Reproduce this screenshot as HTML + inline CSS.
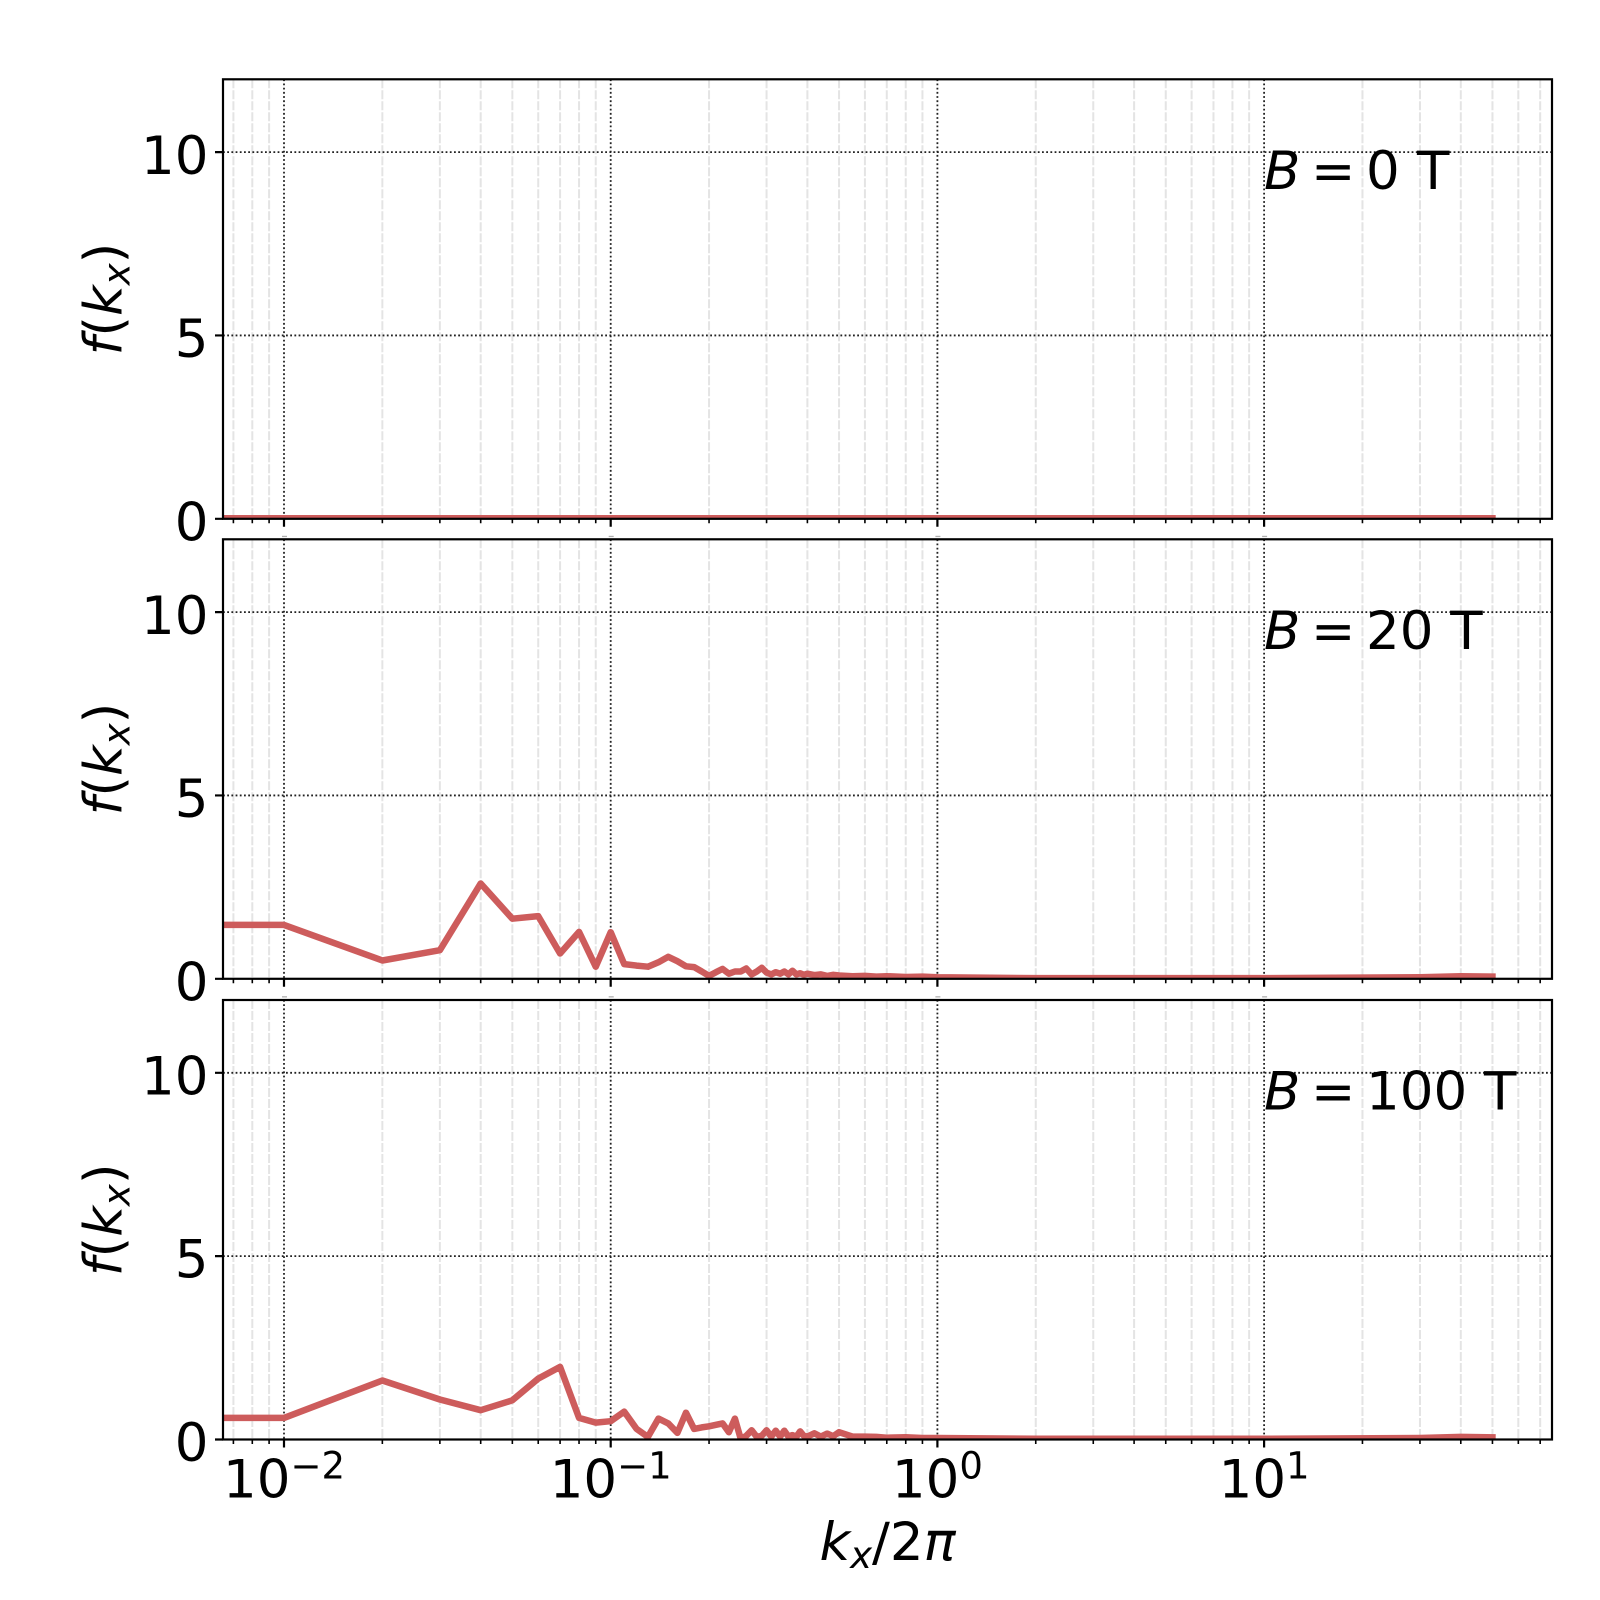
<!DOCTYPE html>
<html>
<head>
<meta charset="utf-8">
<style>
html,body{margin:0;padding:0;background:#fff;}
svg{display:block;}
text{font-family:"DejaVu Sans","Liberation Sans",sans-serif;fill:#000;}
</style>
</head>
<body>
<svg width="1600" height="1600" viewBox="0 0 1600 1600" xmlns="http://www.w3.org/2000/svg" xmlns:xlink="http://www.w3.org/1999/xlink">
<rect x="0" y="0" width="1600" height="1600" fill="#fff"/>
<defs>
  <clipPath id="c1"><rect x="223" y="79.3" width="1329" height="439.5"/></clipPath>
  <clipPath id="c2"><rect x="223" y="539.3" width="1329" height="439.5"/></clipPath>
  <clipPath id="c3"><rect x="223" y="1000" width="1329" height="439.5"/></clipPath>
  <g id="bg">
    <path d="M233.4 0V439.5M252.3 0V439.5M269.1 0V439.5M382.35 0V439.5M439.87 0V439.5M480.69 0V439.5M512.35 0V439.5M538.22 0V439.5M560.08 0V439.5M579.04 0V439.5M595.74 0V439.5M709.05 0V439.5M766.57 0V439.5M807.39 0V439.5M839.05 0V439.5M864.92 0V439.5M886.78 0V439.5M905.74 0V439.5M922.44 0V439.5M1035.75 0V439.5M1093.27 0V439.5M1134.09 0V439.5M1165.75 0V439.5M1191.62 0V439.5M1213.48 0V439.5M1232.44 0V439.5M1249.14 0V439.5M1362.45 0V439.5M1419.97 0V439.5M1460.79 0V439.5M1492.45 0V439.5M1518.32 0V439.5M1540.18 0V439.5" stroke="#e4e4e4" stroke-width="2" stroke-dasharray="9 2" fill="none"/>
    <path d="M284 0V439.5M610.7 0V439.5M937.4 0V439.5M1264.1 0V439.5M223 256.15H1552M223 72.8H1552" stroke="#222" stroke-width="1.8" stroke-dasharray="1.8 2.4" fill="none"/>
  </g>
  <g id="fg">
    <path d="M233.4 439.5v4.5M252.3 439.5v4.5M269.1 439.5v4.5M382.35 439.5v4.5M439.87 439.5v4.5M480.69 439.5v4.5M512.35 439.5v4.5M538.22 439.5v4.5M560.08 439.5v4.5M579.04 439.5v4.5M595.74 439.5v4.5M709.05 439.5v4.5M766.57 439.5v4.5M807.39 439.5v4.5M839.05 439.5v4.5M864.92 439.5v4.5M886.78 439.5v4.5M905.74 439.5v4.5M922.44 439.5v4.5M1035.75 439.5v4.5M1093.27 439.5v4.5M1134.09 439.5v4.5M1165.75 439.5v4.5M1191.62 439.5v4.5M1213.48 439.5v4.5M1232.44 439.5v4.5M1249.14 439.5v4.5M1362.45 439.5v4.5M1419.97 439.5v4.5M1460.79 439.5v4.5M1492.45 439.5v4.5M1518.32 439.5v4.5M1540.18 439.5v4.5" stroke="#000" stroke-width="1.6" fill="none"/>
    <path d="M284 439.5v8M610.7 439.5v8M937.4 439.5v8M1264.1 439.5v8M215 439.5H223M215 256.15H223M215 72.8H223" stroke="#000" stroke-width="2.2" fill="none"/>
    <rect x="223" y="0" width="1329" height="439.5" fill="none" stroke="#000" stroke-width="2.2"/>
  </g>
</defs>

<!-- Panel 1 -->
<use href="#bg" xlink:href="#bg" x="0" y="79.3"/>
<path clip-path="url(#c1)" d="M223,518.3 L1492.45,518.3" stroke="#CD5C5C" stroke-width="6.5" fill="none" stroke-linecap="square" stroke-linejoin="round"/>
<use href="#fg" xlink:href="#fg" x="0" y="79.3"/>

<!-- Panel 2 -->
<use href="#bg" xlink:href="#bg" x="0" y="539.3"/>
<path clip-path="url(#c2)" d="M223,924.9 L284,924.9 L382.35,960.5 L439.87,950.2 L480.69,883.5 L512.35,918.7 L538.22,916.1 L560.08,953.5 L579.04,931.9 L595.74,966.7 L610.7,932.2 L624.22,964.1 L636.57,965.6 L647.92,966.7 L658.44,962.3 L668.23,956.8 L677.38,961.2 L685.99,966.3 L694.1,967.1 L701.77,971.5 L709.05,975.9 L715.97,972.2 L722.57,968.9 L728.88,973.7 L734.92,971.5 L740.71,971.5 L746.27,968.5 L751.63,974.4 L756.79,971.5 L761.77,967.8 L766.57,972.6 L771.23,974.4 L775.73,972.2 L780.1,973.7 L784.33,971.5 L788.45,974.4 L792.44,970.7 L796.33,974.4 L800.11,973.3 L803.8,974.8 L807.39,973.7 L814.32,975.1 L820.92,974.4 L827.22,975.9 L833.26,974.8 L839.05,975.5 L852.58,976.2 L864.92,975.9 L876.28,976.6 L886.78,976.2 L905.74,977 L922.44,976.6 L937.4,977.3 L1035.75,978.1 L1264.1,978.1 L1419.97,977.3 L1460.79,976.2 L1492.45,976.6" stroke="#CD5C5C" stroke-width="6.5" fill="none" stroke-linecap="square" stroke-linejoin="round"/>
<use href="#fg" xlink:href="#fg" x="0" y="539.3"/>

<!-- Panel 3 -->
<use href="#bg" xlink:href="#bg" x="0" y="1000"/>
<path clip-path="url(#c3)" d="M223,1417.9 L284,1417.9 L382.35,1380.5 L439.87,1399.5 L480.69,1410.2 L512.35,1400.3 L538.22,1378.6 L560.08,1366.9 L579.04,1417.9 L595.74,1422.6 L610.7,1421.2 L624.22,1411.6 L636.57,1428.9 L647.92,1436.9 L658.44,1418.6 L668.23,1423.4 L677.38,1432.9 L685.99,1412.7 L694.1,1428.9 L701.77,1427.4 L709.05,1426.3 L715.97,1424.8 L722.57,1423.4 L728.88,1432.2 L734.92,1418.6 L740.71,1438.8 L746.27,1435.8 L751.63,1430.3 L756.79,1436.9 L761.77,1435.8 L766.57,1430.3 L771.23,1436.6 L775.73,1430.7 L780.1,1436.6 L784.33,1430.7 L788.45,1436.6 L792.44,1435.1 L796.33,1436.9 L800.11,1431.4 L803.8,1435.8 L807.39,1436.6 L814.32,1433.3 L820.92,1436.6 L827.22,1433.6 L833.26,1436.2 L839.05,1432.2 L852.58,1436.6 L864.92,1436.6 L876.28,1436.9 L886.78,1437.7 L905.74,1437.3 L922.44,1438 L937.4,1438 L1035.75,1438.8 L1264.1,1438.8 L1419.97,1438 L1460.79,1436.9 L1492.45,1437.3" stroke="#CD5C5C" stroke-width="6.5" fill="none" stroke-linecap="square" stroke-linejoin="round"/>
<use href="#fg" xlink:href="#fg" x="0" y="1000"/>

<!-- tiny marks in gaps -->
<g fill="#b0b0b0">
  <rect x="282" y="535.8" width="5" height="1.3"/>
  <rect x="608.7" y="535.8" width="5" height="1.3"/>
  <rect x="935.4" y="535.8" width="5" height="1.3"/>
  <rect x="1262.1" y="535.8" width="5" height="1.3"/>
  <rect x="282" y="996.2" width="5" height="1.3"/>
  <rect x="608.7" y="996.2" width="5" height="1.3"/>
  <rect x="935.4" y="996.2" width="5" height="1.3"/>
  <rect x="1262.1" y="996.2" width="5" height="1.3"/>
</g>

<!-- Y tick labels -->
<g font-size="53" text-anchor="end">
  <text x="208.5" y="174">10</text>
  <text x="208.5" y="357">5</text>
  <text x="208.5" y="540.3">0</text>
  <text x="208.5" y="634">10</text>
  <text x="208.5" y="817">5</text>
  <text x="208.5" y="1000.3">0</text>
  <text x="208.5" y="1094.5">10</text>
  <text x="208.5" y="1277.7">5</text>
  <text x="208.5" y="1461">0</text>
</g>

<!-- X tick labels -->
<g font-size="53" text-anchor="middle">
  <text x="284" y="1497.3">10<tspan font-size="37" dy="-19">−2</tspan></text>
  <text x="610.7" y="1497.3">10<tspan font-size="37" dy="-19">−1</tspan></text>
  <text x="937.4" y="1497.3">10<tspan font-size="37" dy="-19">0</tspan></text>
  <text x="1264.1" y="1497.3">10<tspan font-size="37" dy="-19">1</tspan></text>
</g>

<!-- Y labels -->
<g font-size="53" text-anchor="middle">
  <text transform="translate(121.5,299) rotate(-90)"><tspan font-style="italic">f</tspan>(<tspan font-style="italic">k</tspan><tspan font-style="italic" font-size="37" dy="8">x</tspan><tspan dy="-8">)</tspan></text>
  <text transform="translate(121.5,759) rotate(-90)"><tspan font-style="italic">f</tspan>(<tspan font-style="italic">k</tspan><tspan font-style="italic" font-size="37" dy="8">x</tspan><tspan dy="-8">)</tspan></text>
  <text transform="translate(121.5,1219.8) rotate(-90)"><tspan font-style="italic">f</tspan>(<tspan font-style="italic">k</tspan><tspan font-style="italic" font-size="37" dy="8">x</tspan><tspan dy="-8">)</tspan></text>
</g>

<!-- X label -->
<text x="887.5" y="1560" font-size="53" text-anchor="middle"><tspan font-style="italic">k</tspan><tspan font-style="italic" font-size="37" dy="8">x</tspan><tspan dy="-8">/2</tspan><tspan font-style="italic">π</tspan></text>

<!-- Annotations -->
<g font-size="53">
  <text y="188.8"><tspan x="1264" font-style="italic">B</tspan><tspan x="1311">=</tspan><tspan x="1366">0</tspan><tspan x="1417">T</tspan></text>
  <text y="648.8"><tspan x="1264" font-style="italic">B</tspan><tspan x="1311">=</tspan><tspan x="1366">20</tspan><tspan x="1450.3">T</tspan></text>
  <text y="1109.5"><tspan x="1264" font-style="italic">B</tspan><tspan x="1311">=</tspan><tspan x="1366">100</tspan><tspan x="1484">T</tspan></text>
</g>
</svg>
</body>
</html>
